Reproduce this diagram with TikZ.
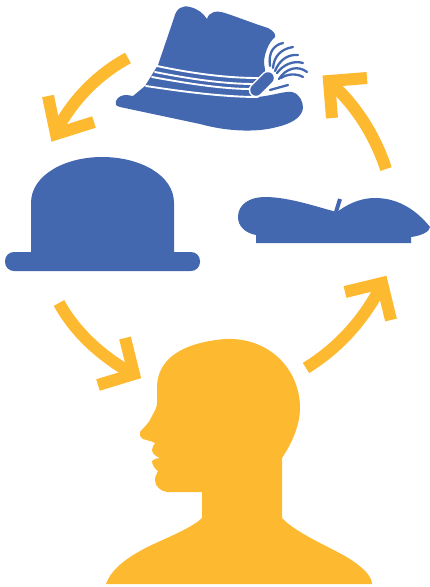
\documentclass[tikz,border=0pt]{standalone}
\definecolor{hatblue}{HTML}{4368B0}
\definecolor{gold}{HTML}{FDB92F}
\tikzset{
  arrowline/.style={draw=gold,line width=12pt,line cap=butt,line join=miter,miter limit=10},
  hatfill/.style={fill=hatblue},
  whiteline/.style={draw=white,line width=1.9pt,line cap=round},
  feather/.style={draw=hatblue,line width=2.3pt,line cap=round},
}
\begin{document}
\begin{tikzpicture}[x=1pt,y=-1pt]
\useasboundingbox (0,0) rectangle (430,587);
% head
\fill[gold] (106,584) .. controls (110,572) and (122,561) .. (140,551) .. controls (155,542) and (190,530) .. (202,518)
 -- (202,492) -- (167,492) .. controls (160,491) and (155,486) .. (155,480) .. controls (155,476) and (157,474) .. (158,471)
 .. controls (155,469) and (152,465) .. (152,461) .. controls (154,459) and (157,458) .. (160,458) .. controls (157,457) and (152,454) .. (152,450) .. controls (152,447) and (154,445) .. (155,443)
 .. controls (151,441) and (146,440) .. (143,439) .. controls (140,437) and (139,434) .. (140,432) .. controls (144,427) and (149,423) .. (151,418) .. controls (154,412) and (157,408) .. (157,403)
 -- (157,388) .. controls (157,360) and (180,343) .. (225,339) .. controls (270,337) and (300,370) .. (300,408) .. controls (300,425) and (292,443) .. (282,458)
 -- (282,518) .. controls (295,532) and (325,545) .. (345,556) .. controls (360,565) and (372,575) .. (372,584) -- cycle;
% bowler
\fill[hatfill] (31,260) -- (31,203) .. controls (31,175) and (65,157) .. (102,157) .. controls (140,157) and (174,175) .. (174,203) -- (174,260) -- cycle;
\fill[hatfill,rounded corners=9pt] (5,252) rectangle (200,271);
% beret
\fill[hatfill] (256,235) .. controls (245,233) and (238,226) .. (238,217) .. controls (238,204) and (250,197) .. (265,197) .. controls (290,197) and (320,208) .. (337,212) .. controls (345,206) and (358,198) .. (375,198) .. controls (400,198) and (418,212) .. (430,227) .. controls (430,232) and (420,236) .. (411,237) -- (411,243) -- (256,243) -- cycle;
\draw[hatblue,line width=4pt] (336,212) -- (340,199);
% feathered hat
\fill[hatfill] (158,65) -- (174,18) .. controls (176,8) and (183,5) .. (190,7) .. controls (198,9) and (203,13) .. (207,19) .. controls (209,12) and (216,10) .. (225,13) .. controls (240,18) and (255,24) .. (268,28) .. controls (274,31) and (276,35) .. (275,37)
 .. controls (268,43) and (264,55) .. (264,63) -- (266,76) -- (258,97) .. controls (275,95) and (285,91) .. (292,92) .. controls (300,94) and (303,102) .. (303,108) .. controls (302,118) and (290,124) .. (277,127) .. controls (255,133) and (225,131) .. (200,124) -- (120,107) .. controls (115,106) and (115,103) .. (116,101) .. controls (118,96) and (123,95) .. (127,95) -- (133,96) -- (145,86) -- cycle;
\draw[whiteline] (157,66) .. controls (190,73) and (225,78) .. (258,78);
\draw[whiteline] (155,72) .. controls (190,79) and (225,84) .. (254,84);
\draw[whiteline] (152,77) .. controls (190,84) and (225,89) .. (250,89);
\draw[whiteline] (146,86) .. controls (185,92) and (225,97) .. (258,97);
% feather
\draw[feather] (270,66) .. controls (268,52) and (274,45) .. (283,43);
\draw[feather] (273,68) .. controls (274,56) and (281,49) .. (293,47);
\draw[feather] (275,71) .. controls (279,61) and (287,54) .. (298,55);
\draw[feather] (277,73) .. controls (283,65) and (293,60) .. (303,63);
\draw[feather] (279,79) .. controls (286,68) and (298,65) .. (307,72);
\draw[feather] (281,78) .. controls (287,74) and (296,73) .. (303,77);
\draw[feather] (270,90) -- (288,85);
% hat pin
\draw[draw=white,line width=14.5pt,line cap=round] (256,90) -- (268,78);
\draw[draw=hatblue,line width=11.5pt,line cap=round] (256,90) -- (268,78);
% arrows
\draw[arrowline] (128,58) .. controls (100,73) and (75,97) .. (58,128);
\draw[arrowline] (48,96) -- (56,134) -- (94,122);
\draw[arrowline] (59,303) .. controls (75,332) and (100,355) .. (131,373);
\draw[arrowline] (125,338) -- (134,374) -- (98,385);
\draw[arrowline] (306,368) .. controls (335,350) and (360,325) .. (379,290);
\draw[arrowline] (345,292) -- (382,283) -- (391,320);
\draw[arrowline] (386,169) .. controls (375,135) and (355,105) .. (333,85);
\draw[arrowline] (367,78) -- (329,81) -- (332,118);
\end{tikzpicture}
\end{document}
